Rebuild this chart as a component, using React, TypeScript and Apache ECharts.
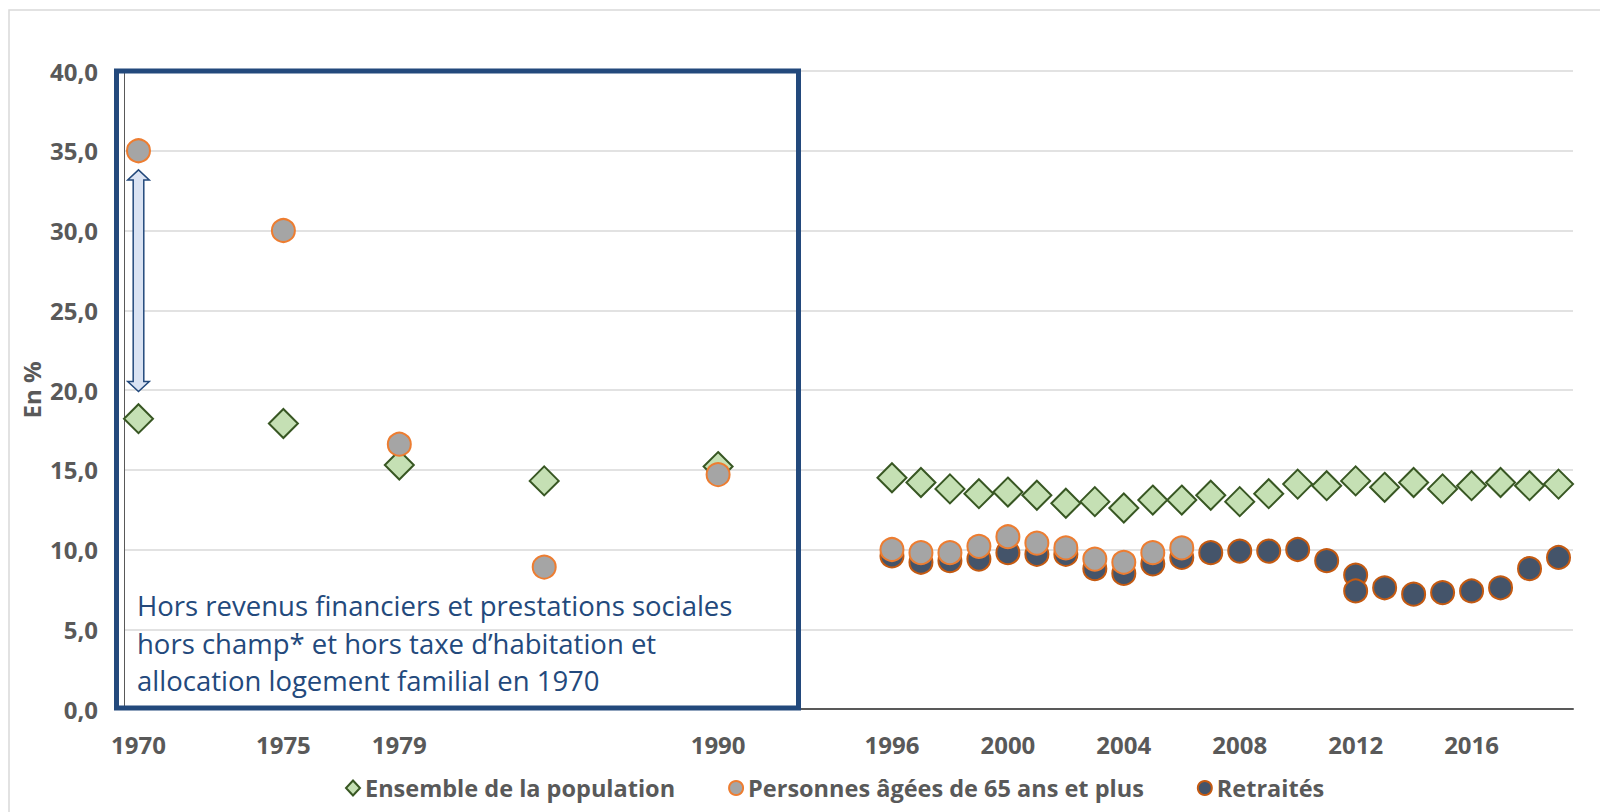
import React, { useEffect, useRef } from "react";
import * as echarts from "echarts";

const categories: string[] = Array.from({ length: 50 }, (_, i) => String(1970 + i));
const labeledYears = ["1970", "1975", "1979", "1990", "1996", "2000", "2004", "2008", "2012", "2016"];

const ensembleYears = ["1970", "1975", "1979", "1984", "1990", "1996", "1997", "1998", "1999", "2000", "2001", "2002", "2003", "2004", "2005", "2006", "2007", "2008", "2009", "2010", "2011", "2012", "2013", "2014", "2015", "2016", "2017", "2018", "2019"];
const ensembleValues = [18.2, 17.9, 15.3, 14.3, 15.2, 14.5, 14.2, 13.8, 13.5, 13.6, 13.4, 12.9, 13.0, 12.6, 13.1, 13.1, 13.4, 13.0, 13.5, 14.1, 14.0, 14.3, 13.9, 14.2, 13.8, 14.0, 14.2, 14.0, 14.1];

const agesYears = ["1970", "1975", "1979", "1984", "1990", "1996", "1997", "1998", "1999", "2000", "2001", "2002", "2003", "2004", "2005", "2006"];
const agesValues = [35.0, 30.0, 16.6, 8.9, 14.7, 10.0, 9.8, 9.8, 10.2, 10.8, 10.4, 10.1, 9.4, 9.2, 9.8, 10.1];

const retraitesYears = ["1996", "1997", "1998", "1999", "2000", "2001", "2002", "2003", "2004", "2005", "2006", "2007", "2008", "2009", "2010", "2011", "2012", "2012", "2013", "2014", "2015", "2016", "2017", "2018", "2019"];
const retraitesValues = [9.6, 9.2, 9.3, 9.4, 9.8, 9.7, 9.7, 8.8, 8.5, 9.1, 9.5, 9.8, 9.9, 9.9, 10.0, 9.3, 8.4, 7.4, 7.6, 7.2, 7.3, 7.4, 7.6, 8.8, 9.5];

const seriesNames = ["Ensemble de la population", "Personnes âgées de 65 ans et plus", "Retraités"];
const boxText = "Hors revenus financiers et prestations sociales\nhors champ* et hors taxe d\u2019habitation et\nallocation logement familial en 1970";

const FONT = "'Open Sans', 'Noto Sans', sans-serif";
const GRAY = "#595959";
const BLUE = "#23497c";

export default function App() {
  const ref = useRef<HTMLDivElement>(null);
  useEffect(() => {
    if (!ref.current) return;
    const chart = echarts.init(ref.current, null, { renderer: "svg" });
    const zip = (ys: string[], vs: number[]) => ys.map((y, i) => [y, vs[i]]);
    const option: any = {
      animation: false,
      backgroundColor: "#ffffff",
      grid: { left: 124, right: 27, top: 71, bottom: 103, containLabel: false },
      legend: {
        data: seriesNames,
        left: 340,
        top: 771,
        itemWidth: 14,
        itemHeight: 15,
        itemGap: 53,
        textStyle: { fontFamily: FONT, fontSize: 23.5, fontWeight: "bold", color: GRAY },
      },
      xAxis: {
        type: "category",
        data: categories,
        boundaryGap: true,
        axisLine: { show: true, lineStyle: { color: GRAY, width: 2 } },
        axisTick: { show: false },
        splitLine: { show: false },
        axisLabel: {
          interval: (_i: number, v: string) => labeledYears.includes(v),
          margin: 23,
          fontFamily: FONT,
          fontSize: 24,
          fontWeight: "bold",
          color: GRAY,
        },
      },
      yAxis: {
        type: "value",
        min: 0,
        max: 40,
        interval: 5,
        axisLine: { show: true, lineStyle: { color: GRAY, width: 1 } },
        axisTick: { show: false },
        splitLine: { show: true, lineStyle: { color: "#D9D9D9", width: 1.5 } },
        axisLabel: {
          margin: 26,
          fontFamily: FONT,
          fontSize: 24,
          fontWeight: "bold",
          color: GRAY,
          formatter: (v: number) => v.toFixed(1).replace(".", ","),
        },
      },
      series: [
        {
          name: seriesNames[0],
          type: "scatter",
          symbol: "diamond",
          symbolSize: 29,
          z: 2,
          itemStyle: { color: "#C5E0B4", borderColor: "#385723", borderWidth: 2, opacity: 1 },
          data: zip(ensembleYears, ensembleValues),
        },
        {
          name: seriesNames[1],
          type: "scatter",
          symbol: "circle",
          symbolSize: 23,
          z: 4,
          itemStyle: { color: "#A5A5A5", borderColor: "#ED7D31", borderWidth: 2, opacity: 1 },
          data: zip(agesYears, agesValues),
        },
        {
          name: seriesNames[2],
          type: "scatter",
          symbol: "circle",
          symbolSize: 23,
          z: 3,
          itemStyle: { color: "#44546A", borderColor: "#C55A11", borderWidth: 2, opacity: 1 },
          data: zip(retraitesYears, retraitesValues),
        },
      ],
    };
    chart.setOption(option);

    const cx = chart.convertToPixel({ xAxisIndex: 0 }, "1970") as number;
    const yt = chart.convertToPixel({ yAxisIndex: 0 }, 33.8) as number;
    const yb = chart.convertToPixel({ yAxisIndex: 0 }, 19.9) as number;
    const y40 = chart.convertToPixel({ yAxisIndex: 0 }, 40) as number;
    const y0 = chart.convertToPixel({ yAxisIndex: 0 }, 0) as number;
    const hw = 10.8, sw = 5.3, hh = 10;
    chart.setOption({
      graphic: [
        {
          type: "rect",
          id: "frame",
          silent: true,
          shape: { x: 9, y: 10, width: 1700, height: 900 },
          style: { fill: "none", stroke: "#D9D9D9", lineWidth: 1.5 },
          z: 0,
        },
        {
          type: "rect",
          id: "box",
          silent: true,
          shape: { x: 116.5, y: y40, width: 682, height: y0 - y40 - 1 },
          style: { fill: "none", stroke: BLUE, lineWidth: 5 },
          z: 10,
        },
        {
          type: "polygon",
          id: "arrow",
          silent: true,
          shape: {
            points: [
              [cx, yt], [cx + hw, yt + hh], [cx + sw, yt + hh], [cx + sw, yb - hh], [cx + hw, yb - hh],
              [cx, yb], [cx - hw, yb - hh], [cx - sw, yb - hh], [cx - sw, yt + hh], [cx - hw, yt + hh],
            ],
          },
          style: { fill: "#DAE3F3", stroke: BLUE, lineWidth: 1.5 },
          z: 10,
        },
        {
          type: "text",
          id: "boxtext",
          silent: true,
          x: 137,
          y: 643,
          style: {
            text: boxText,
            fontFamily: FONT,
            fontSize: 27.5,
            lineHeight: 37.5,
            fill: BLUE,
            align: "left",
            verticalAlign: "middle",
          },
          z: 10,
        },
        {
          type: "text",
          id: "yname",
          silent: true,
          x: 31,
          y: 390,
          rotation: Math.PI / 2,
          style: {
            text: "En %",
            fontFamily: FONT,
            fontSize: 24,
            fontWeight: "bold",
            fill: GRAY,
            align: "center",
            verticalAlign: "middle",
          },
          z: 10,
        },
      ],
    });
    return () => chart.dispose();
  }, []);
  return (
    <div
      ref={ref}
      style={{ position: "absolute", left: 0, top: 0, width: 1600, height: 812 }}
    />
  );
}
